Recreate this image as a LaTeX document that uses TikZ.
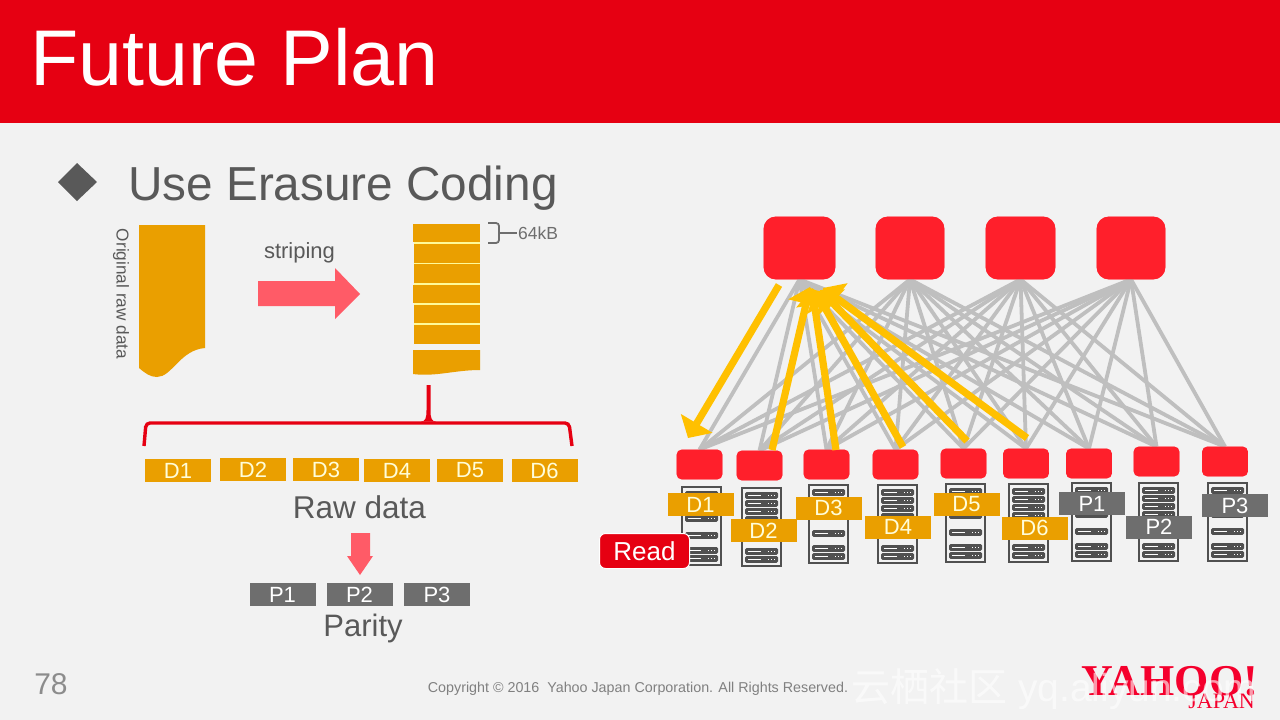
\documentclass[tikz,border=0pt]{standalone}
\usepackage{fontspec}
\setmainfont{Liberation Sans}
\newfontfamily\cjkfont{Noto Sans CJK SC}
\newfontfamily\logofont{Liberation Serif}
\usetikzlibrary{shapes.geometric, arrows.meta, positioning, calc}
\definecolor{headerred}{HTML}{E60012}
\definecolor{slidegray}{HTML}{F2F2F2}
\definecolor{textgray}{HTML}{595959}
\definecolor{rackgray}{HTML}{505050}
\definecolor{blockorange}{HTML}{EA9F00}
\definecolor{paritygray}{HTML}{6E6E6E}
\definecolor{switchred}{HTML}{FF1F2B}
\definecolor{arrowpink}{HTML}{FF5B67}
\definecolor{linkgray}{HTML}{BFBFBF}
\definecolor{readgold}{HTML}{FFC000}
\definecolor{logored}{HTML}{F5002D}
\tikzset{
  switchbox/.style={fill=switchred, draw=switchred!60!white, line width=0.8pt, inner sep=0pt},
  dbox/.style={fill=blockorange, text=yellow!15!white, minimum width=66pt, minimum height=23pt, inner sep=0pt, font=\fontsize{22}{22}\selectfont},
  pbox/.style={dbox, fill=paritygray, text=white},
  link/.style={linkgray, line width=3.8pt},
  readarrow/.style={-{Triangle[width=36pt,length=17pt]}, readgold, line width=7.2pt},
  bodytext/.style={text=textgray, inner sep=0pt}
}
% one server rack, top left corner at #1,#2
\newcommand{\rackserver}[2]{%
  \draw[rackgray, line width=2.2pt] (#1,#2) rectangle (#1+39,#2+78);
  \foreach \u in {4,12,20,28,45,60,68} {
    \fill[rackgray, rounded corners=1.5pt] (#1+3,#2+\u) rectangle (#1+36,#2+\u+6.8);
    \fill[white] (#1+6,#2+\u+2.8) rectangle (#1+19,#2+\u+3.9);
    \foreach \d in {26,29,32} {
      \fill[white] (#1+\d,#2+\u+2.8) rectangle (#1+\d+1.1,#2+\u+3.9);
    }
  }
}
\begin{document}
\begin{tikzpicture}[x=1pt, y=-1pt]
    \useasboundingbox (0,0) rectangle (1280,720);
    \fill[slidegray] (0,0) rectangle (1280,720);
    % Header
    \fill[headerred] (0,0) rectangle (1280,123);
    \node[white, anchor=base west, inner sep=0pt, font=\fontsize{79}{79}\selectfont] (title) at (30,85) {Future Plan};
    \fill[textgray] (58,182) -- (77,163) -- (97,182) -- (77,201) -- cycle;
    \node[bodytext, anchor=base west, font=\fontsize{47.7}{47.7}\selectfont] (subtitle) at (128,200) {Use Erasure Coding};
    % Original data block
    \fill[blockorange] (139,225) -- (205,225) -- (205,348)
      .. controls (180,350) and (172,377) .. (157,377)
      .. controls (150,377) and (145,373) .. (139,368) -- cycle;
    \node[bodytext, rotate=-90, font=\fontsize{17.2}{17.2}\selectfont] (rawlabel) at (121,294) {Original raw data};
    % Striping arrow
    \node[bodytext, font=\fontsize{22}{22}\selectfont] (striping) at (299.5,253) {striping};
    \fill[arrowpink] (258,281) -- (335,281) -- (335,268) -- (360,294) -- (335,319) -- (335,306) -- (258,306) -- cycle;
    % Stripes
    \fill[yellow!40!white] (414,242) rectangle (480,325);
    \foreach \ya/\yb/\xa in {224/242/413,244/263/414,264/283/414,285/303/413,305/323/414,325/344/414} {
      \fill[blockorange] (\xa,\ya) rectangle (480,\yb);
    }
    \fill[blockorange] (413,350) -- (480,350) -- (480,370)
      .. controls (455,370) and (435,377) .. (413,374) -- cycle;
    % 64kB brace
    \draw[paritygray, line width=1.8pt, rounded corners=3pt] (488,223) -- (499,223) -- (499,233) -- (499,243) -- (488,243);
    \draw[paritygray, line width=1.8pt] (499,233) -- (517,233);
    \node[text=paritygray, inner sep=0pt, anchor=west, font=\fontsize{17.5}{17.5}\selectfont] (sizelabel) at (518,233) {64kB};
    % Big brace over the data blocks
    \draw[headerred, line width=3.4pt, rounded corners=4pt] (144,446) -- (146,423) -- (429,423) -- (569,423) -- (572,446);
    \fill[headerred] (426.5,385) -- (430.5,385) -- (430.5,410)
      .. controls (430.5,418) and (431.5,421.5) .. (436,421.5) -- (421,421.5)
      .. controls (425.5,421.5) and (426.5,418) .. (426.5,410) -- cycle;
    % Data and parity blocks
    \foreach \n/\cx/\cy in {1/178/470.5,2/253/469.5,3/326/469.5,4/397/470.5,5/470/470.5,6/544.5/470.5} {
      \node[dbox] (raw\n) at (\cx,\cy) {D\n};
    }
    \node[bodytext, font=\fontsize{31.5}{31.5}\selectfont] (rawname) at (359.5,507) {Raw data};
    \fill[arrowpink] (351,533) -- (370,533) -- (370,556) -- (373,556) -- (360,575) -- (347,556) -- (351,556) -- cycle;
    \foreach \n/\cx in {1/282.5,2/359.5,3/437} {
      \node[pbox, fill=paritygray] (par\n) at (\cx,594.5) {P\n};
    }
    \node[bodytext, font=\fontsize{31}{31}\selectfont] (parname) at (363,628) {Parity};
    % Links from every spine to every leaf
    \foreach \n/\cx/\w in {1/799.5/71,2/910/68,3/1020.5/69,4/1131/68} {
      \node[switchbox, rounded corners=12pt, minimum width=\w pt, minimum height=62pt] (spine\n) at (\cx,248) {};
    }
    \foreach \n/\cx/\cy in {1/699.5/464.5,2/759.5/465.5,3/826.5/464.5,4/895.5/464.5,5/963.5/463.5,6/1026/463.5,7/1089/463.5,8/1156.5/461.5,9/1225/461.5} {
      \node[switchbox, rounded corners=5pt, minimum width=45pt, minimum height=29pt] (leaf\n) at (\cx,\cy) {};
    }
    \foreach \s in {1,2,3,4} {
      \foreach \l in {1,...,9} {
        \draw[link] (spine\s.south) -- (leaf\l.north);
      }
    }
    % Switches again, above the link ends
    \foreach \n in {1,2,3,4} {
      \fill[switchred, rounded corners=12pt] (spine\n.north west) rectangle (spine\n.south east);
    }
    \foreach \n in {1,...,9} {
      \fill[switchred, rounded corners=5pt] (leaf\n.north west) rectangle (leaf\n.south east);
    }
    % Read path
    \coordinate (leavetop) at (779,285);
    \coordinate (reachleaf) at (688,438);
    \draw[readarrow] (leavetop) -- (reachleaf);
    \foreach \l/\fx/\fy/\tx/\ty in {2/772/450/810/287,3/836/450/812/288,4/903/447/815/290,5/967/441/820/290,6/1027/438/823/288} {
      \coordinate (from\l) at (\fx,\fy);
      \coordinate (to\l) at (\tx,\ty);
      \draw[readarrow] (from\l) -- (to\l);
    }
    % Racks
    \foreach \x/\y in {682/487,742/488,809/485,878/485,946/484,1009/484,1072/483,1139/483,1208/483} {
      \rackserver{\x}{\y}
    }
    % Block placement on the racks
    \foreach \n/\cx/\cy in {1/700.5/504.5,2/763.5/530.5,3/828.5/508,4/898/527,5/966.5/504.5,6/1034.5/528} {
      \node[dbox] (data\n) at (\cx,\cy) {D\n};
    }
    \foreach \n/\cx/\cy in {1/1092/503.5,2/1159/527,3/1235/505.5} {
      \node[pbox] (parity\n) at (\cx,\cy) {P\n};
    }
    \node[fill=headerred, draw=white, line width=1pt, rounded corners=6pt, text=white, minimum width=90pt, minimum height=35pt, inner sep=0pt, font=\fontsize{26}{26}\selectfont] (readtag) at (644.5,551) {Read};
    % Footer
    \node[text=gray!90, inner sep=0pt, font=\fontsize{30}{30}\selectfont] (pagenum) at (51,684) {78};
    \node[text=gray, inner sep=0pt, font=\fontsize{14.3}{14.3}\selectfont] (copyright) at (638,689) {Copyright © 2016 \ Yahoo Japan Corporation. All Rights Reserved.};
    \node[text=logored, inner sep=0pt, font=\logofont\bfseries\fontsize{44}{44}\selectfont, anchor=base west] (yahoo) at (1081,695) {YAHOO!};
    \node[text=logored, inner sep=0pt, font=\logofont\fontsize{22}{22}\selectfont, anchor=base east] (japan) at (1255,708) {JAPAN};
    \node[text=white, opacity=0.6, inner sep=0pt, anchor=base west, font=\fontsize{39}{39}\selectfont] (mark) at (851,701) {{\cjkfont 云栖社区} yq.aliyun.com};
  \end{tikzpicture}
\end{document}
